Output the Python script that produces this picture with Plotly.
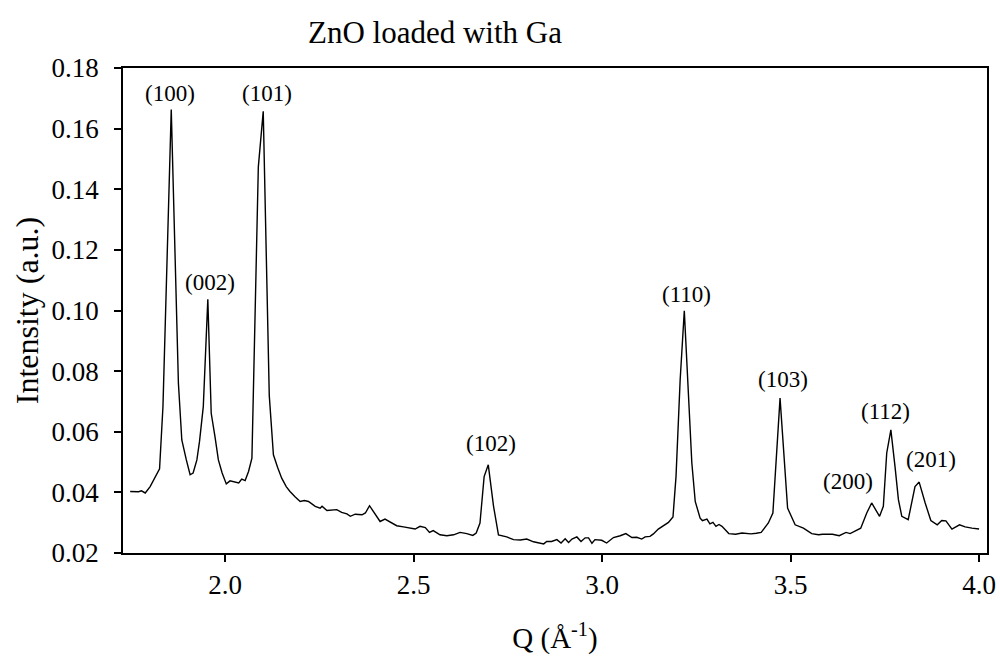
import plotly.graph_objects as go

# Q values (1/Angstrom) and intensity (a.u.)
q = [1.748, 1.761, 1.770, 1.778, 1.783, 1.788, 1.801, 1.814, 1.826, 1.835,
     1.857, 1.876, 1.885, 1.897, 1.907, 1.915, 1.925, 1.932, 1.942, 1.954,
     1.963, 1.973, 1.982, 1.992, 2.003, 2.013, 2.027, 2.036, 2.044, 2.053,
     2.062, 2.071, 2.088, 2.101, 2.117, 2.128, 2.139, 2.150, 2.162, 2.172,
     2.186, 2.199, 2.210, 2.221, 2.230, 2.239, 2.252, 2.257, 2.270, 2.283,
     2.296, 2.309, 2.323, 2.332, 2.345, 2.363, 2.372, 2.383, 2.398, 2.411,
     2.424, 2.438, 2.455, 2.473, 2.491, 2.504, 2.517, 2.531, 2.542, 2.552,
     2.570, 2.588, 2.606, 2.623, 2.641, 2.657, 2.666, 2.676, 2.687, 2.698,
     2.712, 2.725, 2.747, 2.765, 2.783, 2.800, 2.818, 2.831, 2.845, 2.853,
     2.866, 2.880, 2.891, 2.902, 2.911, 2.920, 2.933, 2.944, 2.955, 2.964,
     2.973, 2.981, 2.999, 3.012, 3.030, 3.048, 3.063, 3.079, 3.092, 3.105,
     3.114, 3.127, 3.136, 3.149, 3.163, 3.176, 3.188, 3.196, 3.207, 3.218,
     3.238, 3.247, 3.260, 3.266, 3.278, 3.286, 3.294, 3.302, 3.310, 3.318,
     3.336, 3.354, 3.371, 3.383, 3.395, 3.409, 3.422, 3.441, 3.453, 3.472,
     3.492, 3.512, 3.534, 3.556, 3.574, 3.585, 3.596, 3.611, 3.629, 3.647,
     3.658, 3.676, 3.686, 3.702, 3.715, 3.736, 3.746, 3.755, 3.766, 3.777,
     3.786, 3.795, 3.812, 3.830, 3.841, 3.857, 3.872, 3.889, 3.901, 3.912,
     3.928, 3.948, 3.963, 3.981, 4.000]

intensity = [0.0403, 0.0403, 0.0402, 0.0405, 0.0401, 0.0398, 0.0419, 0.0452, 0.0478, 0.0683,
             0.1663, 0.0760, 0.0573, 0.0507, 0.0458, 0.0464, 0.0507, 0.0568, 0.0683, 0.1037,
             0.0661, 0.0584, 0.0507, 0.0464, 0.0428, 0.0438, 0.0434, 0.0431, 0.0444, 0.0439,
             0.0469, 0.0513, 0.1474, 0.1657, 0.0720, 0.0524, 0.0483, 0.0447, 0.0419, 0.0403,
             0.0385, 0.0370, 0.0373, 0.0370, 0.0362, 0.0354, 0.0348, 0.0354, 0.0340, 0.0341,
             0.0343, 0.0334, 0.0329, 0.0321, 0.0328, 0.0326, 0.0332, 0.0356, 0.0326, 0.0304,
             0.0312, 0.0301, 0.0290, 0.0286, 0.0281, 0.0279, 0.0288, 0.0284, 0.0268, 0.0274,
             0.0260, 0.0257, 0.0260, 0.0268, 0.0264, 0.0258, 0.0266, 0.0299, 0.0452, 0.0491,
             0.0354, 0.0260, 0.0253, 0.0244, 0.0243, 0.0246, 0.0237, 0.0233, 0.0230, 0.0238,
             0.0238, 0.0244, 0.0233, 0.0247, 0.0235, 0.0246, 0.0253, 0.0238, 0.0250, 0.0250,
             0.0232, 0.0244, 0.0242, 0.0233, 0.0251, 0.0257, 0.0264, 0.0251, 0.0252, 0.0246,
             0.0253, 0.0255, 0.0263, 0.0279, 0.0291, 0.0301, 0.0319, 0.0452, 0.0771, 0.0999,
             0.0497, 0.0370, 0.0315, 0.0307, 0.0312, 0.0296, 0.0301, 0.0288, 0.0294, 0.0288,
             0.0264, 0.0262, 0.0266, 0.0264, 0.0263, 0.0265, 0.0268, 0.0299, 0.0332, 0.0711,
             0.0348, 0.0293, 0.0282, 0.0264, 0.0260, 0.0262, 0.0262, 0.0262, 0.0257, 0.0268,
             0.0264, 0.0277, 0.0282, 0.0332, 0.0365, 0.0321, 0.0354, 0.0530, 0.0606, 0.0485,
             0.0376, 0.0321, 0.0310, 0.0419, 0.0434, 0.0365, 0.0307, 0.0293, 0.0307, 0.0306,
             0.0279, 0.0293, 0.0286, 0.0282, 0.0279]

# Peak labels (Miller indices) and their positions in data units
peak_labels = ["(100)", "(101)", "(002)", "(102)", "(110)", "(103)", "(112)", "(200)", "(201)"]
label_q = [1.853, 2.111, 1.959, 2.705, 3.223, 3.479, 3.752, 3.653, 3.872]
label_i = [0.1716, 0.1717, 0.1092, 0.0562, 0.1054, 0.0773, 0.0667, 0.0436, 0.0507]

x_ticks = [2.0, 2.5, 3.0, 3.5, 4.0]
y_ticks = [0.02, 0.04, 0.06, 0.08, 0.10, 0.12, 0.14, 0.16, 0.18]

FONT = "Liberation Serif"

fig = go.Figure()
fig.add_trace(go.Scatter(x=q, y=intensity, mode="lines",
                         line=dict(color="black", width=1.4),
                         showlegend=False, hoverinfo="skip"))

for t, xq, yi in zip(peak_labels, label_q, label_i):
    fig.add_annotation(x=xq, y=yi, text=t, showarrow=False,
                       font=dict(family=FONT, size=23, color="black"),
                       xanchor="center", yanchor="middle")

fig.update_layout(
    width=1000, height=658,
    margin=dict(l=123, r=13, t=68, b=105),
    paper_bgcolor="white", plot_bgcolor="white",
    font=dict(family=FONT, color="black"),
    title=dict(text="ZnO loaded with Ga", x=(435 - 123) / 864, xref="paper",
               xanchor="center", y=1 - 32 / 658, yanchor="middle",
               font=dict(family=FONT, size=31, color="black")),
)

fig.update_xaxes(range=[1.729, 4.021], tickvals=x_ticks,
                 ticktext=[f"{v:.1f}" for v in x_ticks],
                 showgrid=False, zeroline=False, automargin=False,
                 showline=True, linecolor="black", linewidth=1.5, mirror=True,
                 ticks="outside", ticklen=7, tickwidth=1.5, tickcolor="black",
                 ticklabelstandoff=0,
                 tickfont=dict(family=FONT, size=27, color="black"),
                 title=dict(text="Q (Å<sup>-1</sup>)", standoff=29,
                            font=dict(family=FONT, size=29, color="black")))

fig.update_yaxes(range=[0.02, 0.18], tickvals=y_ticks,
                 ticktext=[f"{v:.2f}" for v in y_ticks],
                 showgrid=False, zeroline=False, automargin=False,
                 showline=True, linecolor="black", linewidth=1.5, mirror=True,
                 ticks="outside", ticklen=7, tickwidth=1.5, tickcolor="black",
                 ticklabelstandoff=10,
                 tickfont=dict(family=FONT, size=27, color="black"),
                 title=dict(text="Intensity (a.u.)", standoff=3,
                            font=dict(family=FONT, size=32, color="black")))

fig.write_html("out.html", config={"displayModeBar": False},
               post_script="document.body.style.margin='0px';document.body.style.overflow='hidden';")
